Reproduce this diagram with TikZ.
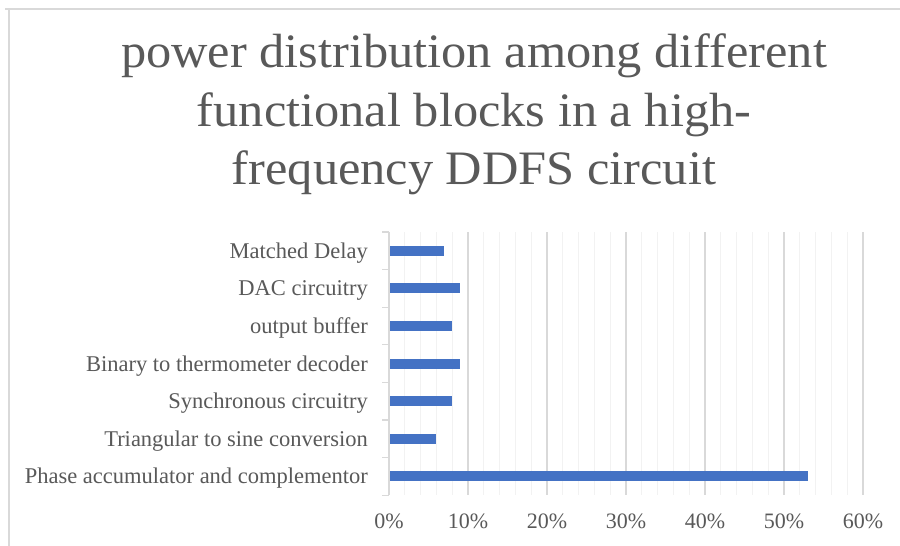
\documentclass[tikz,border=0pt]{standalone}
\usepackage{fontspec}
\setmainfont{Liberation Serif}
\usetikzlibrary{positioning}

\definecolor{framegray}{HTML}{D9D9D9}
\definecolor{minorgray}{HTML}{F2F2F2}
\definecolor{textgray}{HTML}{595959}
\definecolor{barblue}{HTML}{4472C4}

\tikzset{
  titleline/.style={anchor=base, inner sep=0pt, text=textgray, xscale=1.05, font=\fontsize{48}{58}\selectfont},
  catlabel/.style={anchor=base east, inner sep=0pt, text=textgray, font=\fontsize{22.5}{27}\selectfont},
  ticklabel/.style={anchor=base, inner sep=0pt, text=textgray, font=\fontsize{22}{26}\selectfont},
  majorgrid/.style={draw=framegray, line width=1.3pt},
  minorgrid/.style={draw=minorgray, line width=1.3pt},
  barfill/.style={fill=barblue}
}

\begin{document}
\begin{tikzpicture}[x=1pt,y=-1pt]
  \useasboundingbox (0,0) rectangle (900,546);
  \fill[white] (0,0) rectangle (900,546);
  % chart frame
  \draw[framegray, line width=1.3pt] (5,9) -- (900,9);
  \draw[framegray, line width=1.3pt] (9,9) -- (9,546);

  % title
  \node[titleline] (title1) at (474,67.5) {power distribution among different};
  \node[titleline] (title2) at (474,126) {functional blocks in a high-};
  \node[titleline] (title3) at (474,184) {frequency DDFS circuit};

  % plot area, one unit = 1%
  \begin{scope}[shift={(389,0)}, x=7.9pt]
    \foreach \p in {2,4,6,8,12,14,16,18,22,24,26,28,32,34,36,38,42,44,46,48,52,54,56,58}
      \draw[minorgrid] (\p,232) -- (\p,495.2);
    \foreach \p in {10,20,30,40,50,60}
      \draw[majorgrid] (\p,232) -- (\p,495.2);

    \fill[barfill] (0,245.8) rectangle (7,255.8);
    \fill[barfill] (0,283.4) rectangle (9,293.4);
    \fill[barfill] (0,321.0) rectangle (8,331.0);
    \fill[barfill] (0,358.6) rectangle (9,368.6);
    \fill[barfill] (0,396.2) rectangle (8,406.2);
    \fill[barfill] (0,433.8) rectangle (6,443.8);
    \fill[barfill] (0,471.4) rectangle (53,481.4);

    \node[ticklabel] (t0) at (0,528.5) {0\%};
    \node[ticklabel] (t10) at (10,528.5) {10\%};
    \node[ticklabel] (t20) at (20,528.5) {20\%};
    \node[ticklabel] (t30) at (30,528.5) {30\%};
    \node[ticklabel] (t40) at (40,528.5) {40\%};
    \node[ticklabel] (t50) at (50,528.5) {50\%};
    \node[ticklabel] (t60) at (60,528.5) {60\%};
  \end{scope}

  % category axis
  \draw[majorgrid] (389,232) -- (389,495.2);
  \foreach \y in {232,269.6,307.2,344.8,382.4,420,457.6,495.2}
    \draw[majorgrid] (382,\y) -- (389,\y);

  \node[catlabel] (matched) at (368,258.3) {Matched Delay};
  \node[catlabel] (dac) at (368,295.9) {DAC circuitry};
  \node[catlabel] (buffer) at (368,333.5) {output buffer};
  \node[catlabel] (decoder) at (368,371.1) {Binary to thermometer decoder};
  \node[catlabel] (sync) at (368,408.7) {Synchronous circuitry};
  \node[catlabel] (sine) at (368,446.3) {Triangular to sine conversion};
  \node[catlabel] (phase) at (368,483.9) {Phase accumulator and complementor};
\end{tikzpicture}
\end{document}
